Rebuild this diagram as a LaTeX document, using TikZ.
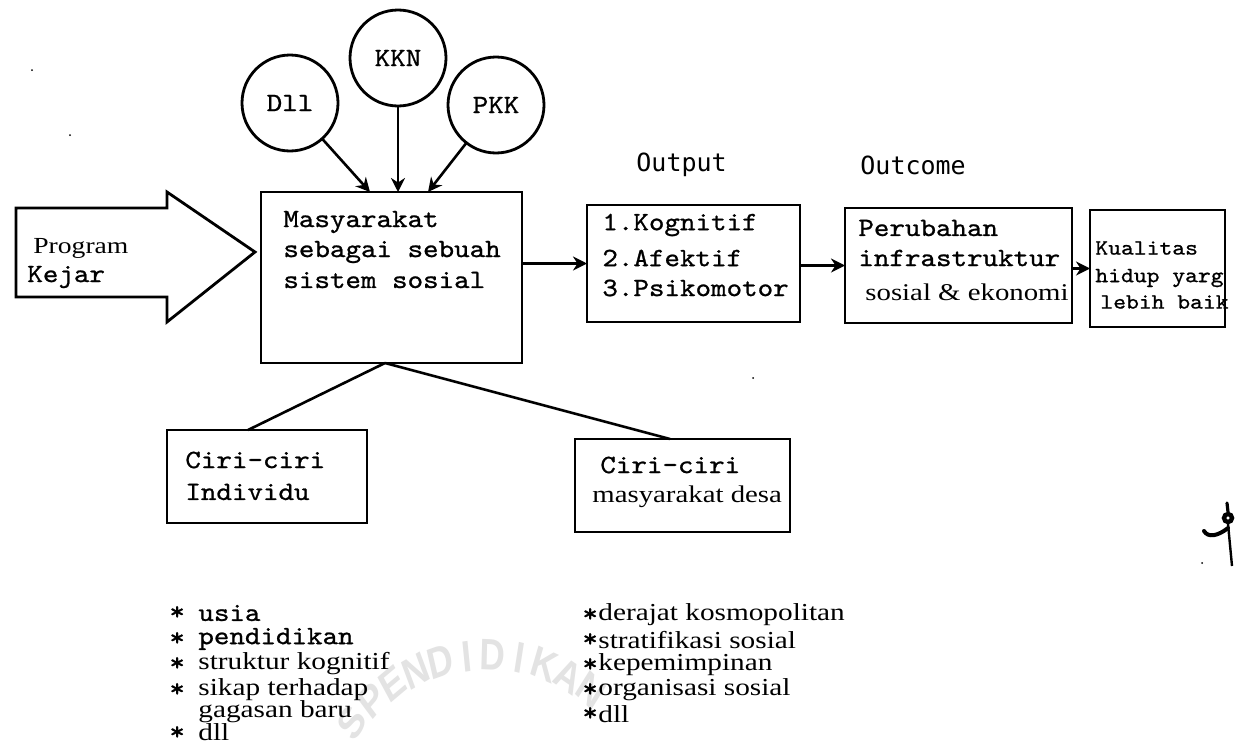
\documentclass[tikz,border=0pt]{standalone}
\usepackage{fontspec}
\setmainfont{Liberation Serif}
\newfontfamily\sw{Liberation Serif}[FakeStretch=1.2]
\newfontfamily\hd{DejaVu Sans Mono}
\newfontfamily\wm{Liberation Sans}
\newfontfamily\tw{lmmono10-regular.otf}[FakeStretch=1.12,FakeBold=0.9]
\usetikzlibrary{arrows.meta}
\begin{document}
\begin{tikzpicture}[x=0.5pt,y=-0.5pt,
  box/.style={draw, line width=1.4pt, inner sep=0pt, outer sep=0pt, anchor=north west},
  circ/.style={draw, circle, line width=1.4pt, minimum size=48pt, inner sep=0pt, outer sep=0pt, font=\tw\fontsize{13.2pt}{15pt}\selectfont},
  arr/.style={-{Stealth[length=7pt,width=7pt]}, line width=1.3pt},
  ln/.style={line width=1.3pt},
  mono/.style={anchor=west, inner sep=0pt, font=\tw\fontsize{13.2pt}{15pt}\selectfont},
  monos/.style={anchor=west, inner sep=0pt, font=\tw\fontsize{10.9pt}{12pt}\selectfont},
  serif/.style={anchor=west, inner sep=0pt, font=\sw\fontsize{12pt}{14pt}\selectfont},
  lst/.style={anchor=west, inner sep=0pt, font=\sw\fontsize{12.2pt}{14pt}\selectfont},
  star/.style={anchor=west, inner sep=0pt, font=\tw\fontsize{13.2pt}{15pt}\selectfont},
  head/.style={anchor=west, inner sep=0pt, font=\hd\fontsize{12.5pt}{14pt}\selectfont},
  wmk/.style={inner sep=0pt, text=black!11, font=\wm\bfseries\fontsize{22pt}{24pt}\selectfont, xscale=0.8}
]
\useasboundingbox (0,0) rectangle (1236,744);
\fill[white] (0,0) rectangle (1236,744);

% watermark
\foreach \ch/\ang in {S/143,P/133,E/124,N/115,D/106,I/97,D/88,I/79,K/70,A/61,N/52}
  \node[wmk, rotate=\ang-90] at ({487+169*cos(\ang)},{824-169*sin(\ang)}) {\ch};

% big input arrow
\draw[line width=1.4pt, line join=miter] (16,208) -- (167,208) -- (167,192) -- (255,252) -- (167,322) -- (167,297) -- (16,297) -- cycle;
\node[serif, font=\sw\fontsize{11.5pt}{13pt}\selectfont] (prog) at (33,248) {Program};
\node[mono] (kejar) at (27,277) {Kejar};

% main box
\node[box, minimum width=130.5pt, minimum height=85.5pt] (main) at (261,192) {};
\node[mono] (t1) at (283,222) {Masyarakat};
\node[mono] (t2) at (283,252) {sebagai sebuah};
\node[mono] (t3) at (283,280) {sistem sosial};

% circles
\node[circ] (dll) at (290,103) {Dll};
\node[circ] (kkn) at (398,58) {KKN};
\node[circ] (pkk) at (496,105) {PKK};
\coordinate (m1) at (370,192);
\coordinate (m2) at (398,192);
\coordinate (m3) at (428,192);
\draw[arr] (dll) -- (m1);
\draw[arr] (kkn) -- (m2);
\draw[arr] (pkk) -- (m3);

% headings
\node[head] (hout) at (636,165) {Output};
\node[head] (hoc) at (860,165) {Outcome};

% output box
\node[box, minimum width=106.5pt, minimum height=58.5pt] (out) at (587,205) {};
\node[mono] at (602,225) {1.Kognitif};
\node[mono] at (602,258) {2.Afektif};
\node[mono] at (602,288) {3.Psikomotor};

% outcome box
\node[box, minimum width=113.5pt, minimum height=57.5pt] (outc) at (845,208) {};
\node[mono] at (858,228) {Perubahan};
\node[mono] at (858,258) {infrastruktur};
\node[serif] at (865,292) {sosial \& ekonomi};

% kualitas box
\node[box, minimum width=67.5pt, minimum height=58.5pt] (kual) at (1090,210) {};
\node[monos] at (1095,248) {Kualitas};
\node[monos] at (1095,278) {hidup yarg};
\node[monos] at (1100,302) {lebih baik};

% horizontal arrows
\draw[arr] (out.west -| main.east) -- (out.west);
\draw[arr] (outc.west -| out.east) -- (outc.west);
\draw[arr] (kual.west -| outc.east) -- (kual.west);

% lower boxes
\node[box, minimum width=100pt, minimum height=46.5pt] (ind) at (167,430) {};
\node[mono] at (185,460) {Ciri-ciri};
\node[mono] at (185,492) {Individu};
\node[box, minimum width=107.5pt, minimum height=46.5pt] (desa) at (575,439) {};
\node[mono] at (600,465) {Ciri-ciri};
\node[serif] at (592,497) {masyarakat desa};

\coordinate (apex) at (385,363);
\coordinate (ia) at (248,430);
\coordinate (da) at (670,439);
\draw[ln] (apex) -- (ia);
\draw[ln] (apex) -- (da);

% left list
\node[star] at (169,613) {*};
\node[mono] at (198,613) {usia};
\node[star] at (169,639) {*};
\node[mono] at (198,639) {pendidikan};
\node[star] at (169,664) {*};
\node[lst] at (198,664) {struktur kognitif};
\node[star] at (169,690) {*};
\node[lst] at (198,690) {sikap terhadap};
\node[lst] at (198,712) {gagasan baru};
\node[star] at (169,733) {*};
\node[lst] at (198,732) {dll};

% right list
\node[star] at (582,615) {*};
\node[lst] at (598,615) {derajat kosmopolitan};
\node[star] at (582,640) {*};
\node[lst] at (598,640) {stratifikasi sosial};
\node[star] at (582,665) {*};
\node[lst] at (598,665) {kepemimpinan};
\node[star] at (582,690) {*};
\node[lst] at (598,690) {organisasi sosial};
\node[star] at (582,714) {*};
\node[lst] at (598,714) {dll};

% signature mark
\draw[line width=2pt, line cap=round] (1204,531) .. controls (1208,538) and (1218,536) .. (1228,528);
\draw[line width=2.2pt] (1228,518) circle (4);
\draw[line width=1.6pt, line cap=round] (1227,503) -- (1228,512);
\draw[line width=1.2pt] (1228,524) -- (1232,566);
\fill (1202,563) circle (1);
\fill (32,70) circle (1);
\fill (70,135) circle (1);
\fill (753,378) circle (1);
\end{tikzpicture}
\end{document}
